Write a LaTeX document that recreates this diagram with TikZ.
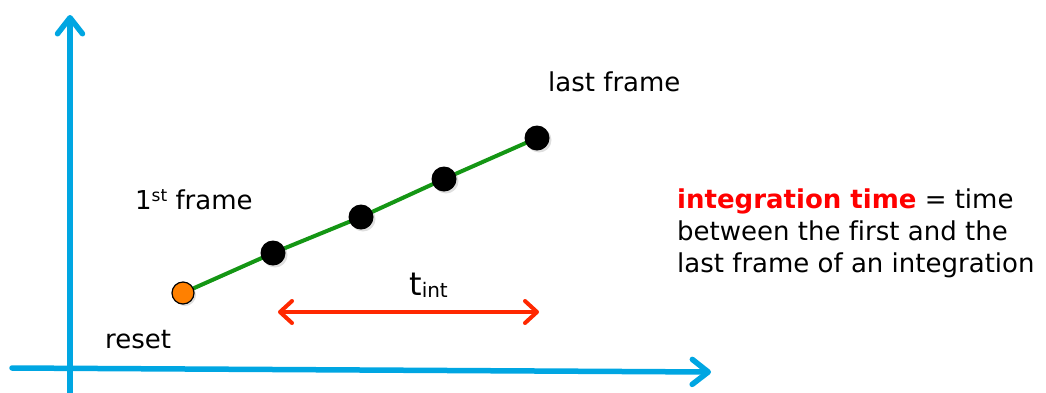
\documentclass[tikz,border=0pt]{standalone}
\usepackage{fontspec}
\setmainfont{DejaVu Sans}[Ligatures=NoCommon]
\usetikzlibrary{arrows.meta,shadows}
\pgfdeclarelayer{bg}
\pgfsetlayers{bg,main}
\definecolor{axisblue}{RGB}{0,166,226}
\definecolor{lineGreen}{RGB}{20,150,20}
\definecolor{dotOrange}{RGB}{255,128,0}
\definecolor{arrRed}{RGB}{255,40,0}
\definecolor{txtRed}{RGB}{255,0,0}
\tikzset{
  axis/.style={draw=axisblue, line width=5.5pt, line cap=round, -{Straight Barb[length=16pt,width=25pt,line width=5.5pt,round]}},
  frameline/.style={draw=lineGreen, line width=4pt},
  blackdot/.style={circle, fill=black, minimum size=25pt, inner sep=0pt, drop shadow={opacity=0.25, shadow xshift=2pt, shadow yshift=-2pt}},
  orangedot/.style={circle, fill=dotOrange, draw=black, line width=1.2pt, minimum size=22pt, inner sep=0pt, drop shadow={opacity=0.25, shadow xshift=2pt, shadow yshift=-2pt}},
  lbl/.style={font=\fontsize{26}{31}\selectfont, inner sep=0pt},
  tint/.style={draw=arrRed, line width=4pt, {Straight Barb[length=12pt,width=22pt,line width=4pt,round]}-{Straight Barb[length=12pt,width=22pt,line width=4pt,round]}}
}
\begin{document}
\begin{tikzpicture}[x=1pt,y=-1pt]
\useasboundingbox (0,0) rectangle (1046,392);
\coordinate (yb) at (70,396);
\coordinate (yt) at (70,15);
\coordinate (xl) at (12,368);
\coordinate (xr) at (711,372);
\draw[axis] (yb) -- (yt);
\draw[axis] (xl) -- (xr);
\node[orangedot] (r) at (183,293) {};
\node[blackdot] (d1) at (273,253) {};
\node[blackdot] (d2) at (361,217) {};
\node[blackdot] (d3) at (444,179) {};
\node[blackdot] (d4) at (537,138) {};
\begin{pgfonlayer}{bg}
\draw[frameline] (r.center) -- (d1.center) -- (d2.center) -- (d3.center) -- (d4.center);
\end{pgfonlayer}
\coordinate (ta) at (278,312);
\coordinate (tb) at (539,312);
\draw[tint] (ta) -- (tb);
\node[inner sep=0pt, anchor=base west, font=\fontsize{32}{36}\selectfont] (tl) at (409,295) {t\raisebox{-2pt}{\fontsize{20}{24}\selectfont int}};
\node[lbl, anchor=base west] (lf) at (548,91) {last frame};
\node[lbl, anchor=base west] (ff) at (135,209) {1\raisebox{8pt}{\fontsize{17}{20}\selectfont st} frame};
\node[lbl, anchor=base west] (rs) at (105,348) {reset};
\node[lbl, anchor=base west, align=left, font=\fontsize{26}{32}\selectfont] (it) at (677,272)
  {\textcolor{txtRed}{\bfseries integration time} = time\\between the first and the\\last frame of an integration};
\end{tikzpicture}
\end{document}
